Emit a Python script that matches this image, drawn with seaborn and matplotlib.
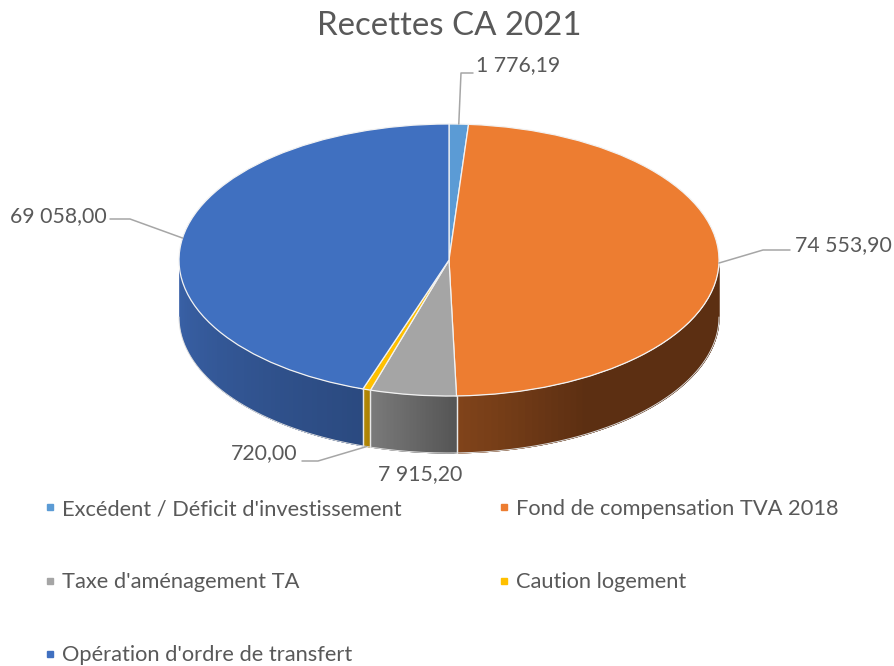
import numpy as np
import seaborn as sns
import matplotlib.pyplot as plt
from matplotlib.lines import Line2D

categories = ["Excédent / Déficit d'investissement", "Fond de compensation TVA 2018",
              "Taxe d'aménagement TA", "Caution logement", "Opération d'ordre de transfert"]
recettes = [1776.19, 74553.90, 7915.20, 720.00, 69058.00]
labels_txt = ["1 776,19", "74 553,90", "7 915,20", "720,00", "69 058,00"]
couleurs = ["#5B9BD5", "#ED7D31", "#A5A5A5", "#FFC000", "#4070C0"]
# cote du camembert : couleur de debut et de fin de chaque part
cote_debut = ["#3F6C95", "#5C2F12", "#555555", "#A67C00", "#2B4A80"]
cote_fin = ["#3F6C95", "#80431A", "#7A7A7A", "#B58A00", "#3A62A8"]

sns.set_theme(style="white")
plt.rcParams['font.family'] = ['Lato', 'DejaVu Sans']
gris = "#595959"

W, H = 895, 666
cx, cy, rx, ry, prof = 449, 260, 270, 136, 57


def X(p):
    return (p - cx) / rx


def Y(p):
    return (cy - p) / ry


fig = plt.figure(figsize=(W / 100, H / 100), dpi=100)
ax = fig.add_axes([0, 0, 1, 1])

total = sum(recettes)
fins = np.cumsum(recettes) / total * 2 * np.pi
debuts = np.concatenate([[0], fins[:-1]])
h = prof / ry

# le cote visible (la moitie basse)
for i in range(len(recettes)):
    a0 = max(debuts[i], np.pi / 2)
    a1 = min(fins[i], 3 * np.pi / 2)
    if a1 <= a0:
        continue
    n = 60
    pal = sns.blend_palette([cote_debut[i], cote_fin[i]], n)
    if i == 1:
        # l'orange reste sombre puis s'eclaircit pres du centre
        pal = [cote_debut[i]] * 40 + sns.blend_palette([cote_debut[i], cote_fin[i]], 20)
    ang = np.linspace(a0, a1, n + 1)
    for j in range(n):
        # chaque bande deborde sur la suivante pour eviter les rayures
        fin_seg = ang[j + 1] if j == n - 1 else min(ang[j] + 3 * (ang[1] - ang[0]), a1)
        seg = np.linspace(ang[j], fin_seg, 8)
        ax.fill_between(np.sin(seg), np.cos(seg), np.cos(seg) - h, color=pal[j], lw=0)
    for a in [a0, a1]:
        if np.pi / 2 < a < 3 * np.pi / 2:
            ax.plot([np.sin(a)] * 2, [np.cos(a), np.cos(a) - h], color="#E8E8E8", lw=0.9)

# contour bas du cote
t = np.linspace(np.pi / 2, 3 * np.pi / 2, 200)
ax.plot(np.sin(t), np.cos(t) - h, color="#DDDDDD", lw=0.7)

wedges, _ = ax.pie(recettes, colors=couleurs, startangle=90, counterclock=False, radius=1,
                   wedgeprops=dict(edgecolor="#F2F2F2", linewidth=0.9))
ax.set_aspect('auto')
ax.set_xlim(X(0), X(W))
ax.set_ylim(Y(H), Y(0))
ax.axis('off')

fig.text(449.5 / W, 1 - 26 / H, "Recettes CA 2021", ha='center', va='center', fontsize=23.8, color=gris)

# etiquettes de valeur et lignes de rappel
milieux = (debuts + fins) / 2
ancre = [(np.sin(m), np.cos(m)) for m in milieux]
ancre[3] = (ancre[3][0], ancre[3][1] - h)
coudes = [[(461, 73), (473, 73)], [(763, 250), (790, 250)], None,
          [(318, 461), (302, 461)], [(130, 219), (110, 219)]]
txt_pos = [(476, 65, 'left'), (795, 245, 'left'), (420, 474, 'center'),
           (297, 453, 'right'), (107, 216, 'right')]
for i in range(len(recettes)):
    if coudes[i] is not None:
        xs = [ancre[i][0]] + [X(p[0]) for p in coudes[i]]
        ys = [ancre[i][1]] + [Y(p[1]) for p in coudes[i]]
        ax.plot(xs, ys, color="#A6A6A6", lw=1.1, clip_on=False)
    ax.text(X(txt_pos[i][0]), Y(txt_pos[i][1]), labels_txt[i], ha=txt_pos[i][2], va='center',
            fontsize=15.3, color=gris)

# legende : remplie colonne par colonne
ordre = [0, 2, 4, 1, 3]
poignees = [Line2D([], [], ls='', marker='s', ms=4.5, color=couleurs[i]) for i in ordre]
leg = ax.legend(poignees, [categories[i] for i in ordre], ncol=2, frameon=False,
                loc='upper left', bbox_to_anchor=(41 / W, 1 - 499 / H), fontsize=15.75,
                labelspacing=2.43, columnspacing=4.3, handletextpad=0.15, handlelength=0.8,
                labelcolor=gris, borderpad=0, borderaxespad=0)

plt.savefig("out.png", dpi=100)
